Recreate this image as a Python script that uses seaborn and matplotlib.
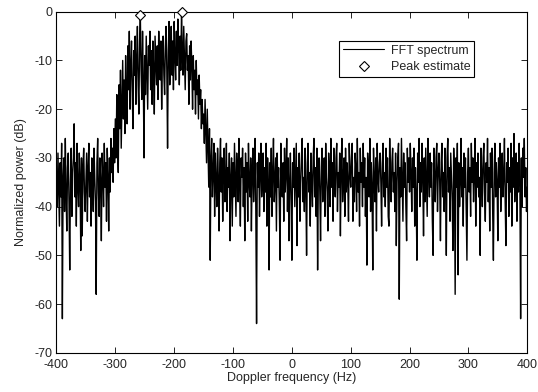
import matplotlib
matplotlib.use("Agg")
import matplotlib.pyplot as plt
import numpy as np
import pandas as pd
import seaborn as sns

# FFT bins: -400 Hz .. 400 Hz, 1.25 Hz apart
f_start, f_step, n_bins = -400.0, 1.25, 641
freq = f_start + f_step * np.arange(n_bins)

# normalized power (dB); 40 bins (50 Hz) per row
power = [
    # -400 .. -351.25
    -33, -40, -29, -36, -44, -31, -38, -27, -63, -34, -30, -41, -26, -37, -45, -32, -29, -39, -53, -35,
    -28, -42, -33, -30, -23, -38, -31, -44, -27, -36, -40, -29, -34, -49, -30, -46, -32, -28, -37, -41,
    # -350 .. -301.25
    -35, -29, -43, -32, -27, -38, -33, -44, -30, -36, -41, -28, -34, -39, -58, -31, -26, -37, -42, -30,
    -35, -47, -29, -33, -40, -27, -36, -31, -43, -28, -34, -45, -30, -37, -26, -33, -28, -35, -24, -31,
    # -300 .. -251.25
    -22, -30, -17, -27, -33, -15, -24, -12, -28, -19, -10, -22, -14, -25, -9, -18, -23, -7, -16, -4,
    -20, -11, -6, -17, -24, -8, -13, -5, -19, -10, -3, -15, -21, -6, -0.7, -12, -18, -4, -14, -30,
    # -250 .. -201.25
    -9, -17, -5, -13, -20, -7, -11, -4, -16, -8, -19, -6, -12, -21, -5, -10, -15, -7, -18, -4,
    -11, -14, -6, -20, -9, -5, -13, -17, -7, -3, -12, -28, -8, -2, -15, -10, -3, -13, -6, -16,
    # -200 .. -151.25
    -2, -9, -14, -4, -11, -1.5, -7, -15, -5, -12, 0, -8, -13, -3, -10, -16, -6, -4.5, -12, -9,
    -19, -7, -14, -6, -11, -20, -9, -16, -12, -21, -10, -17, -14, -22, -13, -19, -16, -24, -18, -23,
    # -150 .. -101.25
    -21, -27, -18, -25, -31, -20, -28, -36, -24, -51, -30, -26, -38, -33, -27, -42, -29, -35, -40, -28,
    -34, -45, -31, -26, -37, -30, -43, -33, -28, -39, -35, -27, -41, -32, -36, -29, -47, -34, -30, -44,
    # -100 .. -51.25
    -31, -38, -27, -35, -42, -29, -33, -39, -26, -36, -44, -30, -34, -28, -40, -32, -47, -29, -37, -31,
    -43, -27, -35, -38, -30, -45, -33, -28, -39, -34, -26, -41, -64, -31, -36, -29, -42, -33, -27, -38,
    # -50 .. -1.25
    -34, -29, -41, -32, -37, -27, -44, -30, -35, -53, -31, -38, -28, -42, -33, -26, -39, -35, -30, -45,
    -29, -36, -32, -40, -51, -27, -34, -38, -31, -43, -28, -37, -33, -26, -41, -30, -47, -35, -29, -39,
    # 0 .. 48.75
    -51, -31, -36, -28, -40, -33, -27, -48, -32, -38, -29, -43, -35, -30, -26, -39, -34, -41, -28, -36,
    -50, -31, -27, -37, -33, -44, -29, -35, -40, -30, -26, -38, -32, -42, -28, -53, -34, -30, -37, -47,
    # 50 .. 98.75
    -32, -28, -39, -35, -30, -42, -27, -34, -37, -45, -29, -33, -40, -26, -36, -31, -43, -28, -35, -38,
    -30, -27, -41, -33, -36, -29, -46, -32, -26, -39, -34, -30, -42, -28, -37, -31, -35, -43, -27, -33,
    # 100 .. 148.75
    -36, -30, -27, -43, -34, -39, -29, -32, -41, -26, -37, -33, -44, -28, -35, -31, -40, -27, -36, -30,
    -42, -34, -52, -29, -33, -38, -26, -41, -31, -36, -53, -28, -35, -39, -30, -45, -27, -34, -37, -31,
    # 150 .. 198.75
    -29, -35, -44, -31, -27, -38, -33, -40, -28, -36, -30, -42, -44, -26, -34, -39, -31, -28, -37, -33,
    -41, -29, -48, -35, -30, -27, -59, -32, -38, -26, -34, -43, -29, -36, -31, -40, -47, -28, -35, -30,
    # 200 .. 248.75
    -37, -27, -33, -41, -30, -36, -28, -44, -32, -38, -51, -29, -35, -26, -40, -31, -37, -27, -34, -46,
    -30, -39, -28, -35, -42, -26, -33, -38, -29, -36, -31, -43, -50, -28, -34, -39, -30, -27, -41, -33,
    # 250 .. 298.75
    -29, -35, -47, -31, -27, -38, -33, -41, -28, -36, -50, -30, -26, -37, -32, -43, -29, -34, -39, -49,
    -28, -33, -58, -30, -36, -27, -54, -31, -40, -35, -26, -38, -32, -44, -29, -36, -30, -41, -51, -33,
    # 300 .. 348.75
    -28, -37, -32, -42, -27, -35, -30, -39, -33, -26, -44, -31, -36, -29, -38, -34, -50, -28, -33, -40,
    -30, -27, -37, -43, -31, -35, -26, -39, -32, -45, -29, -36, -28, -41, -51, -33, -27, -38, -31, -35,
    # 350 .. 398.75
    -47, -30, -36, -27, -41, -33, -29, -38, -34, -26, -39, -48, -31, -35, -28, -42, -32, -37, -27, -44,
    -30, -36, -25, -39, -33, -29, -43, -31, -37, -27, -35, -63, -30, -40, -28, -34, -26, -38, -32, -41,
    # 400
    -36,
]

peak_freq = [-257.5, -187.5]
peak_power = [-0.7, 0.0]

df = pd.DataFrame({"freq": freq, "power": power})

sns.set_style("ticks")
plt.rcParams["font.family"] = ["Liberation Sans", "DejaVu Sans"]
plt.rcParams["axes.unicode_minus"] = False
plt.rcParams["xtick.direction"] = "in"
plt.rcParams["ytick.direction"] = "in"

fig = plt.figure(figsize=(5.38, 3.92), dpi=100)
ax = fig.add_axes([0.105, 0.100, 0.875, 0.870])

sns.lineplot(data=df, x="freq", y="power", color="black", linewidth=1.0,
             estimator=None, sort=False, ax=ax, label="FFT spectrum")
ax.plot(peak_freq, peak_power, linestyle="none", marker="D", markersize=5.5,
        markerfacecolor="white", markeredgecolor="black", markeredgewidth=0.8,
        label="Peak estimate", clip_on=False, zorder=5)

ax.set_xlim(-400, 400)
ax.set_ylim(-70, 0)
ax.set_xticks(range(-400, 401, 100))
ax.set_yticks(range(-70, 1, 10))
ax.tick_params(labelsize=9, top=True, right=True, length=4, width=0.6,
               color="black", pad=3)
ax.tick_params(axis="x", pad=4.5)
for s in ax.spines.values():
    s.set_linewidth(0.8)
    s.set_color("black")

ax.set_xlabel("Doppler frequency (Hz)", fontsize=9, labelpad=1)
ax.set_ylabel("Normalized power (dB)", fontsize=9, labelpad=5)

leg = ax.legend(loc="upper right", bbox_to_anchor=(0.887, 0.914), fontsize=9,
                frameon=True, fancybox=False, edgecolor="black", framealpha=1,
                handlelength=3.3, handletextpad=0.5, borderpad=0.3,
                labelspacing=0.35, borderaxespad=0)
leg.get_frame().set_linewidth(0.8)
for h in leg.get_lines()[:1]:
    h.set_linewidth(0.8)

fig.savefig("out.png", dpi=100)
